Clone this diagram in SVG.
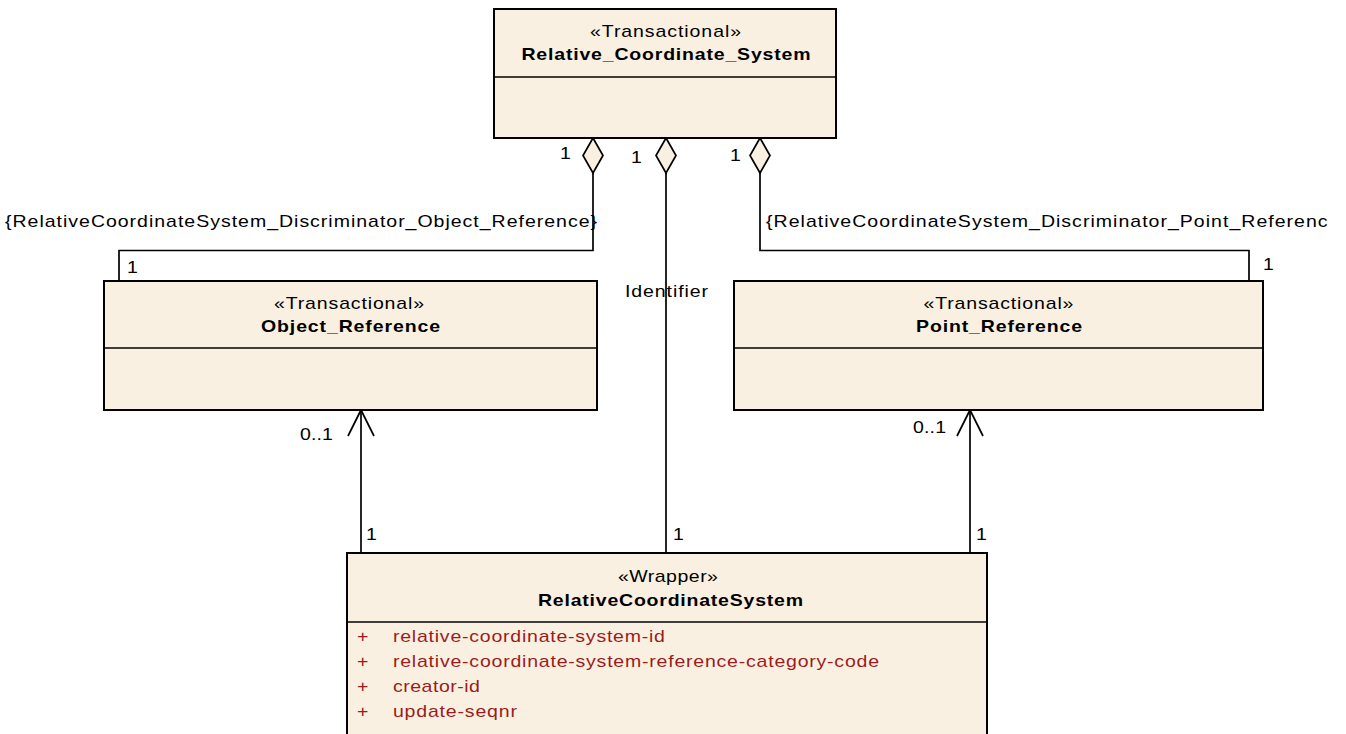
<svg xmlns="http://www.w3.org/2000/svg" width="1346" height="734" viewBox="0 0 1346 734">
<style>
.box{fill:#FAF0E2;stroke:#000;stroke-width:2}
.div{stroke:#000;stroke-width:1.6}
.t{font-family:"Liberation Sans",Arial,sans-serif;font-size:16px;fill:#000}
.b{font-family:"Liberation Sans",Arial,sans-serif;font-size:16px;font-weight:bold;fill:#000}
.a{font-family:"Liberation Sans",Arial,sans-serif;font-size:16px;fill:#9A1C1C}
.ln{fill:none;stroke:#000;stroke-width:1.7}
.dia{fill:#FAF0E2;stroke:#000;stroke-width:1.7}
</style>
<defs>
<clipPath id="clipR"><rect x="760" y="200" width="568" height="40"/></clipPath>
</defs>
<rect x="0" y="0" width="1346" height="734" fill="#fff"/>
<g id="connectors">
<path class="ln" d="M593,173 V250.5 H119 V281"/>
<path class="ln" d="M666,173 V553"/>
<path class="ln" d="M760,173 V250.5 H1249 V281"/>
<path class="ln" d="M361,553 V410"/>
<path class="ln" d="M348,436 L361,410 L374,436"/>
<path class="ln" d="M970,553 V410"/>
<path class="ln" d="M957,436 L970,410 L983,436"/>
<path class="dia" d="M593,138 L603,155.5 L593,173 L583,155.5 Z"/>
<path class="dia" d="M666,138 L676,155.5 L666,173 L656,155.5 Z"/>
<path class="dia" d="M760,138 L770,155.5 L760,173 L750,155.5 Z"/>
<g transform="scale(1.22,1)">
<text class="t" x="4.1" y="227" textLength="485.25" lengthAdjust="spacing">{RelativeCoordinateSystem_Discriminator_Object_Reference}</text>
<text class="t" x="459" y="159">1</text>
<text class="t" x="517.2" y="163">1</text>
<text class="t" x="598.4" y="161">1</text>
<text class="t" x="104.1" y="273">1</text>
<text class="t" x="1035.2" y="270">1</text>
<text class="t" x="512.3" y="297" textLength="68" lengthAdjust="spacing">Identifier</text>
<text class="t" x="245.9" y="440" textLength="27" lengthAdjust="spacing">0..1</text>
<text class="t" x="748.4" y="433" textLength="27" lengthAdjust="spacing">0..1</text>
<text class="t" x="300" y="540">1</text>
<text class="t" x="551.6" y="540">1</text>
<text class="t" x="800" y="540">1</text>
</g>
<g clip-path="url(#clipR)">
<text class="t" transform="scale(1.22,1)" x="627.9" y="227" textLength="476.2" lengthAdjust="spacing">{RelativeCoordinateSystem_Discriminator_Point_Reference}</text>
</g>
</g>
<g id="Relative_Coordinate_System">
<rect class="box" x="494" y="9" width="342" height="129"/>
<line class="div" x1="494" y1="77" x2="836" y2="77"/>
<g transform="scale(1.22,1)">
<text class="t" x="545.5" y="37" text-anchor="middle" textLength="123.8" lengthAdjust="spacing">«Transactional»</text>
<text class="b" x="545.9" y="60.5" text-anchor="middle" textLength="236.9" lengthAdjust="spacing">Relative_Coordinate_System</text>
</g>
</g>
<g id="Object_Reference">
<rect class="box" x="104" y="281" width="493" height="129"/>
<line class="div" x1="104" y1="348" x2="597" y2="348"/>
<g transform="scale(1.22,1)">
<text class="t" x="286.1" y="309" text-anchor="middle" textLength="122.95" lengthAdjust="spacing">«Transactional»</text>
<text class="b" x="287.3" y="332.5" text-anchor="middle" textLength="146.7" lengthAdjust="spacing">Object_Reference</text>
</g>
</g>
<g id="Point_Reference">
<rect class="box" x="734" y="281" width="529" height="129"/>
<line class="div" x1="734" y1="348" x2="1263" y2="348"/>
<g transform="scale(1.22,1)">
<text class="t" x="818.4" y="309" text-anchor="middle" textLength="122.95" lengthAdjust="spacing">«Transactional»</text>
<text class="b" x="818.9" y="332.5" text-anchor="middle" textLength="136.1" lengthAdjust="spacing">Point_Reference</text>
</g>
</g>
<g id="RelativeCoordinateSystem">
<rect class="box" x="347" y="553" width="640" height="200"/>
<line class="div" x1="347" y1="622" x2="987" y2="622"/>
<g transform="scale(1.22,1)">
<text class="t" x="547.5" y="582" text-anchor="middle" textLength="82" lengthAdjust="spacing">«Wrapper»</text>
<text class="b" x="549.6" y="606" text-anchor="middle" textLength="217.2" lengthAdjust="spacing">RelativeCoordinateSystem</text>
<text class="a" x="292.6" y="642.5">+</text>
<text class="a" x="322.1" y="642.5" textLength="222.95" lengthAdjust="spacing">relative-coordinate-system-id</text>
<text class="a" x="292.6" y="667.5">+</text>
<text class="a" x="322.1" y="667.5" textLength="398.4" lengthAdjust="spacing">relative-coordinate-system-reference-category-code</text>
<text class="a" x="292.6" y="692.5">+</text>
<text class="a" x="322.1" y="692.5" textLength="71.3" lengthAdjust="spacing">creator-id</text>
<text class="a" x="292.6" y="717.5">+</text>
<text class="a" x="322.1" y="717.5" textLength="101.6" lengthAdjust="spacing">update-seqnr</text>
</g>
</g>
</svg>
